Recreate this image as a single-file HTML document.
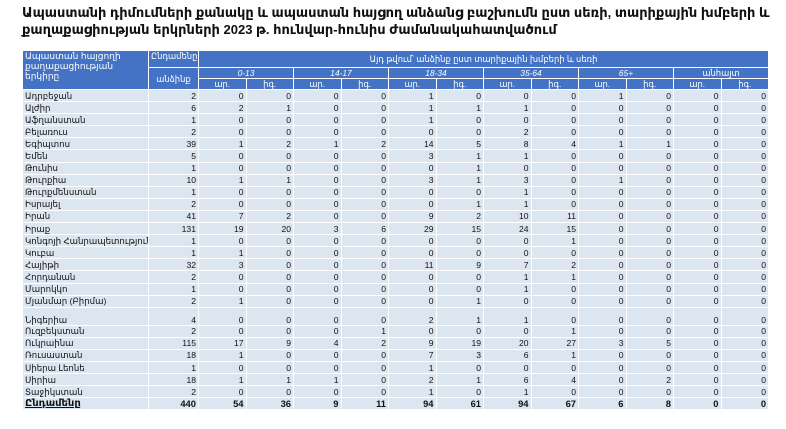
<!DOCTYPE html>
<html><head><meta charset="utf-8"><style>
body{margin:0;background:#fff;width:786px;height:429px;overflow:hidden;font-family:"Liberation Sans","DejaVu Sans",sans-serif;}
h1{position:absolute;left:22px;top:4px;margin:0;font-size:13px;line-height:17px;font-weight:bold;color:#111;width:760px;}
table{position:absolute;left:22px;top:50px;border-collapse:collapse;table-layout:fixed;width:746px;font-size:8.6px;}
td{border:1px solid #fff;padding:0 2px;height:11.1px;line-height:10px;background:#dce6f1;color:#111;text-align:right;white-space:nowrap;overflow:hidden;}
td.n{text-align:left;}
.h td{background:#4472c4;color:#fff;text-align:center;font-size:8.4px;height:10px;}
.h td.l{text-align:left;vertical-align:top;line-height:10px;font-size:9px;}
.i{font-style:italic;}
tr.t td{font-weight:bold;font-size:9.4px;}
tr.t td.n{text-decoration:underline;font-size:10px;}
tr.g td{height:17px;vertical-align:bottom;}
</style></head><body>
<h1>Ապաստանի դիմումների քանակը և ապաստան հայցող անձանց բաշխումն ըստ սեռի, տարիքային խմբերի և<br>քաղաքացիության երկրների 2023 թ. հունվար-հունիս ժամանակահատվածում</h1>
<table>
<colgroup><col style="width:126px"><col style="width:50px"><col span="12" style="width:47.5px"></colgroup>
<tr class="h"><td class="l" rowspan="3" style="height:36px">Ապաստան հայցողի<br>քաղաքացիության<br>երկիրը</td><td style="height:16px;vertical-align:top">Ընդամենը</td><td colspan="12">Այդ թվում՝ անձինք ըստ տարիքային խմբերի և սեռի</td></tr>
<tr class="h"><td rowspan="2">անձինք</td><td colspan="2" class="i">0-13</td><td colspan="2" class="i">14-17</td><td colspan="2" class="i">18-34</td><td colspan="2" class="i">35-64</td><td colspan="2" class="i">65+</td><td colspan="2">անհայտ</td></tr>
<tr class="h"><td>ար.</td><td>իգ.</td><td>ար.</td><td>իգ.</td><td>ար.</td><td>իգ.</td><td>ար.</td><td>իգ.</td><td>ար.</td><td>իգ.</td><td>ար.</td><td>իգ.</td></tr>
<tr><td class="n">Ադրբեջան</td><td>2</td><td>0</td><td>0</td><td>0</td><td>0</td><td>1</td><td>0</td><td>0</td><td>0</td><td>1</td><td>0</td><td>0</td><td>0</td></tr>
<tr><td class="n">Ալժիր</td><td>6</td><td>2</td><td>1</td><td>0</td><td>0</td><td>1</td><td>1</td><td>1</td><td>0</td><td>0</td><td>0</td><td>0</td><td>0</td></tr>
<tr><td class="n">Աֆղանստան</td><td>1</td><td>0</td><td>0</td><td>0</td><td>0</td><td>1</td><td>0</td><td>0</td><td>0</td><td>0</td><td>0</td><td>0</td><td>0</td></tr>
<tr><td class="n">Բելառուս</td><td>2</td><td>0</td><td>0</td><td>0</td><td>0</td><td>0</td><td>0</td><td>2</td><td>0</td><td>0</td><td>0</td><td>0</td><td>0</td></tr>
<tr><td class="n">Եգիպտոս</td><td>39</td><td>1</td><td>2</td><td>1</td><td>2</td><td>14</td><td>5</td><td>8</td><td>4</td><td>1</td><td>1</td><td>0</td><td>0</td></tr>
<tr><td class="n">Եմեն</td><td>5</td><td>0</td><td>0</td><td>0</td><td>0</td><td>3</td><td>1</td><td>1</td><td>0</td><td>0</td><td>0</td><td>0</td><td>0</td></tr>
<tr><td class="n">Թունիս</td><td>1</td><td>0</td><td>0</td><td>0</td><td>0</td><td>0</td><td>1</td><td>0</td><td>0</td><td>0</td><td>0</td><td>0</td><td>0</td></tr>
<tr><td class="n">Թուրքիա</td><td>10</td><td>1</td><td>1</td><td>0</td><td>0</td><td>3</td><td>1</td><td>3</td><td>0</td><td>1</td><td>0</td><td>0</td><td>0</td></tr>
<tr><td class="n">Թուրքմենստան</td><td>1</td><td>0</td><td>0</td><td>0</td><td>0</td><td>0</td><td>0</td><td>1</td><td>0</td><td>0</td><td>0</td><td>0</td><td>0</td></tr>
<tr><td class="n">Իսրայել</td><td>2</td><td>0</td><td>0</td><td>0</td><td>0</td><td>0</td><td>1</td><td>1</td><td>0</td><td>0</td><td>0</td><td>0</td><td>0</td></tr>
<tr><td class="n">Իրան</td><td>41</td><td>7</td><td>2</td><td>0</td><td>0</td><td>9</td><td>2</td><td>10</td><td>11</td><td>0</td><td>0</td><td>0</td><td>0</td></tr>
<tr><td class="n">Իրաք</td><td>131</td><td>19</td><td>20</td><td>3</td><td>6</td><td>29</td><td>15</td><td>24</td><td>15</td><td>0</td><td>0</td><td>0</td><td>0</td></tr>
<tr><td class="n">Կոնգոյի Հանրապետություն</td><td>1</td><td>0</td><td>0</td><td>0</td><td>0</td><td>0</td><td>0</td><td>0</td><td>1</td><td>0</td><td>0</td><td>0</td><td>0</td></tr>
<tr><td class="n">Կուբա</td><td>1</td><td>1</td><td>0</td><td>0</td><td>0</td><td>0</td><td>0</td><td>0</td><td>0</td><td>0</td><td>0</td><td>0</td><td>0</td></tr>
<tr><td class="n">Հայիթի</td><td>32</td><td>3</td><td>0</td><td>0</td><td>0</td><td>11</td><td>9</td><td>7</td><td>2</td><td>0</td><td>0</td><td>0</td><td>0</td></tr>
<tr><td class="n">Հորդանան</td><td>2</td><td>0</td><td>0</td><td>0</td><td>0</td><td>0</td><td>0</td><td>1</td><td>1</td><td>0</td><td>0</td><td>0</td><td>0</td></tr>
<tr><td class="n">Մարոկկո</td><td>1</td><td>0</td><td>0</td><td>0</td><td>0</td><td>0</td><td>0</td><td>1</td><td>0</td><td>0</td><td>0</td><td>0</td><td>0</td></tr>
<tr><td class="n">Մյանմար (Բիրմա)</td><td>2</td><td>1</td><td>0</td><td>0</td><td>0</td><td>0</td><td>1</td><td>0</td><td>0</td><td>0</td><td>0</td><td>0</td><td>0</td></tr>
<tr class="g"><td class="n">Նիգերիա</td><td>4</td><td>0</td><td>0</td><td>0</td><td>0</td><td>2</td><td>1</td><td>1</td><td>0</td><td>0</td><td>0</td><td>0</td><td>0</td></tr>
<tr><td class="n">Ուզբեկստան</td><td>2</td><td>0</td><td>0</td><td>0</td><td>1</td><td>0</td><td>0</td><td>0</td><td>1</td><td>0</td><td>0</td><td>0</td><td>0</td></tr>
<tr><td class="n">Ուկրաինա</td><td>115</td><td>17</td><td>9</td><td>4</td><td>2</td><td>9</td><td>19</td><td>20</td><td>27</td><td>3</td><td>5</td><td>0</td><td>0</td></tr>
<tr><td class="n">Ռուսաստան</td><td>18</td><td>1</td><td>0</td><td>0</td><td>0</td><td>7</td><td>3</td><td>6</td><td>1</td><td>0</td><td>0</td><td>0</td><td>0</td></tr>
<tr><td class="n">Սիերա Լեոնե</td><td>1</td><td>0</td><td>0</td><td>0</td><td>0</td><td>1</td><td>0</td><td>0</td><td>0</td><td>0</td><td>0</td><td>0</td><td>0</td></tr>
<tr><td class="n">Սիրիա</td><td>18</td><td>1</td><td>1</td><td>1</td><td>0</td><td>2</td><td>1</td><td>6</td><td>4</td><td>0</td><td>2</td><td>0</td><td>0</td></tr>
<tr><td class="n">Տաջիկստան</td><td>2</td><td>0</td><td>0</td><td>0</td><td>0</td><td>1</td><td>0</td><td>1</td><td>0</td><td>0</td><td>0</td><td>0</td><td>0</td></tr>
<tr class="t"><td class="n">Ընդամենը</td><td>440</td><td>54</td><td>36</td><td>9</td><td>11</td><td>94</td><td>61</td><td>94</td><td>67</td><td>6</td><td>8</td><td>0</td><td>0</td></tr>
</table>
</body></html>
